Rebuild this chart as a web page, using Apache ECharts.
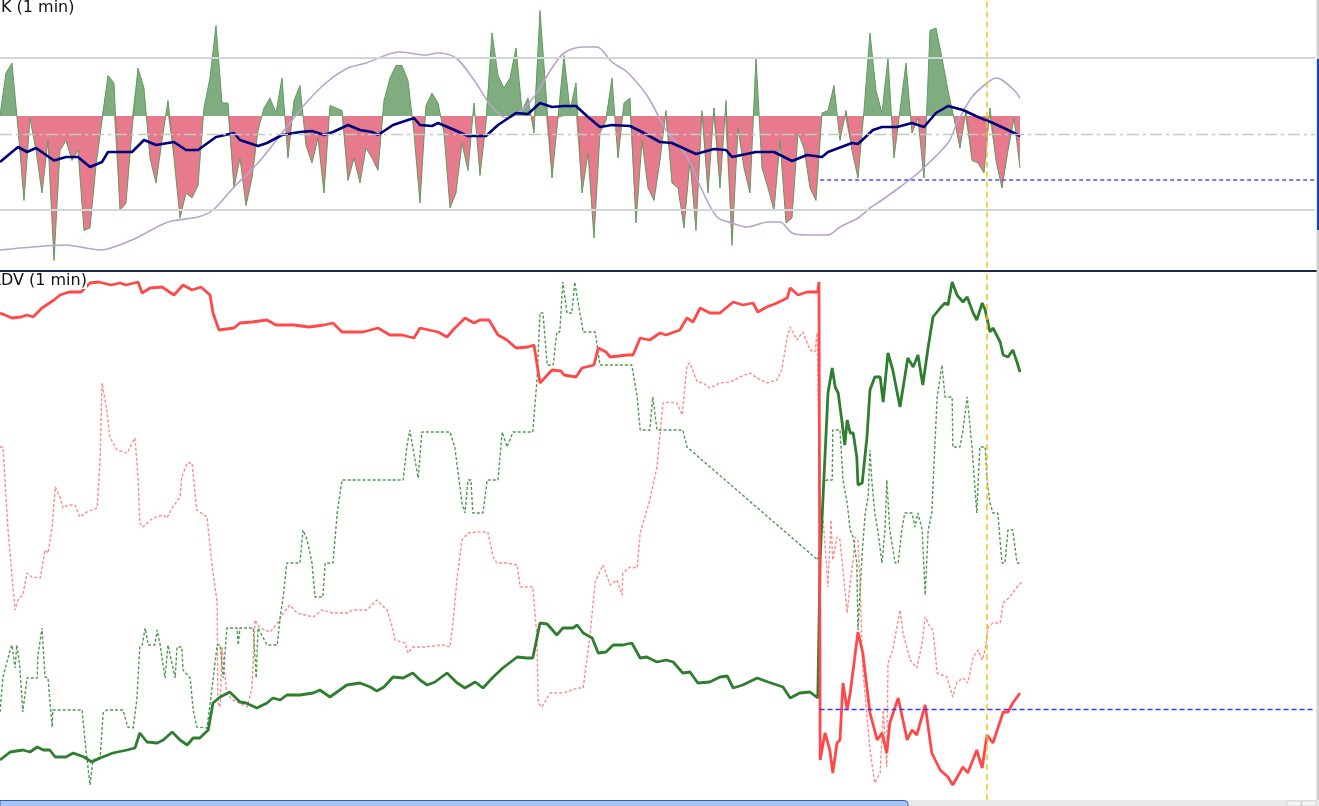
<!DOCTYPE html>
<html><head><meta charset="utf-8">
<script src="https://cdn.jsdelivr.net/npm/echarts@6/dist/echarts.min.js"></script>
<style>html,body{margin:0;padding:0;background:#fff;overflow:hidden}#c{width:1319px;height:806px}</style>
</head><body><div id="c"></div>
<script>
// ---------- DATA ----------
// x unit: minute index (1 minute per step)
const oscK = [57,74,78,52,23,56,43,26,47,-1,43,47,39,43,11,12,37,55,73,70,19,22,51,76,68,40,30,47,63,40,
16,26,24,29,60,72,93,62,62,28,40,21,32,51,60,64,58,72,40,63,69,45,38,48,26,61,60,59,31,40,
30,44,40,35,63,72,77,77,71,50,22,61,66,62,50,20,26,46,35,62,33,54,90,73,68,72,84,59,64,50,
99,66,32,56,81,59,70,26,42,8,50,55,72,40,62,64,14,47,28,23,39,59,30,28,12,39,11,59,26,60,
28,63,5,52,36,26,80,36,28,19,47,14,16,50,44,28,23,58,59,69,47,59,43,32,59,90,67,58,80,40,
59,78,50,56,32,91,92,80,67,56,44,59,39,38,34,60,39,28,43,56,36];
const kBaseline = 56.8;
const kUpper = 80, kLower = 19.2, kMid = 49.6, kRef = 31.2;

const navyLine = [[0,38.4],[3,44.4],[4.5,42.4],[6,44],[9,39],[11,40.4],[13,40.4],[15,36.4],[17,38.4],[18,42.4],[20,42.4],[22,42.4],[24,47.2],[26,45.2],[29,46.4],[31,43.2],[33,43.2],[36,48.4],[39,50],[40,47.2],[43,44.8],[44.5,46],[47,49.2],[50,50.4],[52,50.8],[54,49.2],[55.5,50.4],[58,53.2],[60,51.2],[62,50.4],[63,49.2],[65.5,53.2],[69,56],[70,53.2],[72,52.8],[73,54],[75,52],[78,48.8],[81,48.8],[83,53.2],[86,58],[88,57.6],[90,62],[92,60.4],[94,60.8],[96,60.8],[98,56.4],[100,52.4],[102,53.2],[105,52.8],[107,50.4],[110,46.4],[112,46],[116,41.6],[119,43.6],[121,43.2],[122,40.4],[126,42.4],[129,42.4],[132,38.8],[134.5,41.2],[137,40.4],[138,42.4],[142,46],[143,45.6],[145.5,51.2],[147,52.4],[149.5,52.4],[152,54],[154,52.4],[156,58],[158,60.8],[160.5,59.2],[163,56.4],[165.5,54],[168,51.2],[170,48.8]];

const lavenderLine = [[0,3.2],[5.5,4.4],[11,5.2],[16.7,3.2],[22,7.2],[28,14.4],[33,16.4],[35.5,19.2],[39,28.4],[43,38],[47,50],[51,62],[54.5,70.4],[58,76],[61,78],[66.5,82.4],[71,81.2],[73,82],[76,80],[79,71.2],[82,60.4],[84.5,56],[87,59.2],[89,64.4],[92,76],[94,82],[97,84.4],[99.5,84.4],[102,78.4],[104.5,74.4],[108,64.4],[111,51.2],[114.5,40.4],[117,27.2],[119.5,16.4],[122,14],[124.5,12.4],[128,14.4],[130,14.4],[132,10],[134.5,9.2],[138,9.2],[140,12.4],[143,16],[145,20],[147,23.2],[150,28.4],[153,34],[158,46],[159.5,54],[162,64.4],[164.5,70],[166,72],[167,71.2],[169,67.2],[170,64]];

const advRed = [[0,97.4],[2,96.4],[3.5,96.6],[4.5,97],[5.5,96.6],[7,98.4],[9,100],[10,101],[11.5,101.6],[13.5,101.6],[15,103.4],[16.5,103.6],[18.5,103],[20,103.4],[21,103],[23,103.6],[23.7,101.4],[25,102.4],[27,102.6],[29,101],[30.5,103],[32,102],[33.5,102.6],[35,101],[35.5,97.4],[36.5,94],[39,94.4],[40,95.4],[42,95.6],[44.5,96],[46,95],[49,95],[51.5,94.6],[54,95],[55.5,95.4],[57,93.6],[60.5,93.6],[63,94.4],[65,93],[67,93],[69,92.4],[70,94.4],[73,93.6],[74.5,92.6],[75.5,94],[77.5,96.4],[79,95.4],[80,96],[81.5,96],[83,93],[84.5,92],[86,90.4],[88,90.6],[89,91],[90,83.4],[92,86],[93.5,85.8],[94,85],[96,84.6],[97,86.4],[99,87],[99.7,90.4],[101,89.6],[101.7,88.6],[104.5,89],[105.5,89],[106.7,92.4],[108.3,92],[110,93.4],[111,93],[113.3,94],[114.5,96.4],[115.5,95.6],[116.7,98.4],[118.3,97.4],[120,97.4],[122.2,99.6],[123.8,99],[125.5,99.4],[126.3,97.6],[127.8,98.6],[129.5,99.4],[131.2,100.4],[131.7,102.4],[133,101],[134.5,101.6],[136.3,101.6],[136.5,103.6],[136.7,8],[137.5,13.4],[138.3,10],[138.8,5.4],[139.5,11.4],[140,12],[140.5,23.4],[141.2,18],[141.7,21.4],[143,33.6],[143.8,29.4],[145,17.4],[146.2,12],[147,13.4],[147.8,9.4],[148.3,15.4],[149.7,20.4],[151.2,12],[152,14],[152.8,13],[154.2,19],[155.3,9.4],[156.7,6],[158,4.6],[158.8,3],[160.5,6.6],[161.3,5.4],[162.8,10],[163.7,6.4],[164.5,13],[165.5,11.4],[167.2,17.6],[168,17.6],[168.8,19.4],[170,21.4]];

const advGreen = [[0,8],[1.7,9.6],[3.8,10],[5,9.6],[6.2,10.6],[7.2,10],[8.3,10],[9.2,8.6],[11,8.6],[12.2,9.4],[14,8.6],[15.3,7.6],[16.7,8.4],[18.8,9.4],[21.2,10],[22.5,10.4],[23.3,13.4],[24.5,11.6],[26.2,11.4],[27.2,12],[28.7,13.6],[30,12],[31.2,11],[32.2,12.4],[33.3,12.4],[34.7,14],[35.5,19.4],[36.7,20.6],[38.3,21.6],[40,19.6],[41,19.4],[42.8,18.4],[44.5,19.4],[45.5,20.4],[46.7,20],[47.8,21],[50,21],[52.2,21.4],[53.3,22],[55,20.6],[57.8,23],[60,23.4],[61.7,22.6],[62.8,21.8],[64,22.6],[65.5,24.6],[67.2,24.4],[68.8,25.4],[70,24],[71.2,23],[72.5,23.6],[74.5,25.4],[76.2,23.4],[77.5,22.4],[79.2,23.6],[80.5,22.4],[82.2,24.6],[83.8,26.4],[86.2,28.6],[87.8,28.4],[88.8,28.4],[90,35.4],[91.2,35.2],[92.8,33],[93.8,34.4],[95.5,34.4],[96.2,35],[97.2,33.4],[98.7,32.4],[99.7,29.4],[101,29.6],[102.2,31],[103.8,31],[105.3,31.4],[106.7,28.4],[107.8,28.6],[109.5,27.6],[111,28],[112.2,27.6],[113.8,25.4],[115,25.6],[116.3,23.4],[118.3,23.6],[120,24.6],[121.2,24.8],[122.2,22.4],[123.8,23],[126.2,24.4],[128,23.6],[129.5,23],[130.5,22.6],[131.7,20.4],[133.3,21.4],[135,21.6],[136.3,20.4],[136.7,48.6],[138,81.4],[138.7,86.4],[139.2,82.6],[139.7,81.4],[140.3,76],[140.8,71],[141.2,76],[141.7,73.4],[142.2,73.4],[142.8,68.6],[143,63],[143.7,63.4],[144.5,72.6],[145,82],[145.8,84.6],[146.7,84.6],[147.2,79.6],[147.5,79.6],[148,89.4],[148.8,86],[150,78.6],[150.8,84.6],[151.3,88.4],[152.2,86.6],[153,89],[153.8,83],[154.7,90.6],[155.5,96.6],[156.7,98.4],[157.5,99.4],[158,99],[158.7,103.6],[159.5,101],[160.5,99.6],[161.2,100.6],[162.2,97.4],[162.8,96],[163.7,99.4],[164.2,98],[165,93.6],[165.5,94.4],[166.7,91.6],[167.2,89],[168,88.6],[168.8,90],[169.5,87.6],[170,85.6]];

const advRedDot = [[0,70.6],[0.5,70.6],[1.3,54.6],[2.2,42],[2.5,38],[3,40],[3.8,41],[4.5,45.4],[5.3,44.6],[6.7,44.4],[7.5,50],[8,49.4],[8.7,54.6],[9.2,62.6],[10,60.6],[10.5,58.4],[11.3,59],[12.5,59],[13.3,56.6],[14.5,57.6],[16.2,58.4],[16.7,68.6],[17,83.4],[17.8,78],[18.3,72.6],[19.5,70],[21.2,69.4],[22,71.4],[22.5,72.4],[23,64.6],[23.3,55.4],[23.8,54.6],[25.5,56.4],[27.2,57],[27.8,56.4],[28.8,58.6],[30,60.6],[30.3,64.6],[31.2,67.4],[32,67.4],[32.8,58],[34.5,56.6],[35.3,47.4],[36.2,39.4],[36.3,19.4],[36.7,18.6],[37,30.6],[37.8,21.4],[38.8,20],[41.2,18.6],[42,22.6],[42.5,36],[43.3,34.4],[45,33.6],[46.3,35.4],[47,37],[48.3,39],[49.5,37.4],[52.2,36.6],[53.7,38],[55.5,37.4],[57.8,37.4],[58.8,38],[61.2,38],[62.8,40],[64.5,38],[65.5,34],[65.8,32],[67.5,31.4],[68,29.4],[68.8,30.6],[70.5,30.6],[73.8,31],[75,30.6],[75.5,35.4],[76.2,44.6],[77,52],[78,53.4],[79.5,53.6],[81.3,53.6],[82.2,48.6],[82.8,47.4],[84.5,47.4],[86.2,47],[86.7,42.6],[88.8,42.6],[89.5,32.6],[89.7,19.4],[90.3,18.6],[91.7,21.4],[93.3,21.4],[94.5,21.6],[96.2,22.4],[97.2,22.4],[98.3,32.6],[99.2,43.6],[100.5,47],[101.7,43],[102.8,44],[103.7,41],[103.8,45.4],[105,46.6],[106.2,46.4],[106.7,53.4],[108.3,60],[109.5,66.6],[110.5,79.4],[111.7,79.6],[112.8,79.4],[113.7,77],[114.5,87],[115,87.4],[116.2,83.6],[117.2,83.4],[118.3,82.4],[120,83.4],[121.7,83.6],[123.3,84.6],[125,85.4],[126.2,84.4],[127.8,83.4],[129.5,84],[130.3,86],[131.2,92.6],[131.7,94.6],[132.8,92],[133.8,93.6],[135,90],[135.8,89.6],[136.2,93.4],[136.7,56],[137.2,56],[138,42.6],[138.5,56],[138.8,48],[139.5,52.6],[140,52],[140.5,46],[141.2,37.4],[141.7,43.4],[142.2,48],[142.5,52.6],[143,52],[143.3,44.6],[143.8,26],[145,10],[145.8,3.4],[146.7,5.4],[147.2,18],[147.8,6.6],[148,27.4],[148.8,30],[150,38],[150.5,33.4],[151.7,28],[152.8,26.4],[153.7,31.4],[154.2,36.6],[155,34.6],[155.5,34],[156.2,25.4],[157.8,24.6],[158.8,20.6],[159.5,23.6],[160.5,24.4],[161.3,23.4],[162.2,28.6],[163,30],[163.7,28],[164.2,30],[164.7,34.6],[165.5,35.4],[166.7,35.4],[167.2,39.4],[168.3,40.6],[169.5,42.6],[170.3,43.6]];

const advGreenDot = [[0,17.6],[0.5,24.6],[1.7,30],[2,31],[2.5,26.4],[2.8,31],[3.3,26.6],[3.8,17.6],[4.5,24.4],[6.2,24.4],[6.3,28.6],[7,34.4],[7.5,24.6],[8,24.4],[8.7,14.6],[8.8,18],[13.7,18],[14.2,11.4],[15,3],[15.5,8],[16.7,8.6],[17.2,17.4],[17.8,18],[20.5,18],[21.3,14.6],[22.2,14.4],[22.8,20],[23.3,30.6],[23.7,31],[24.2,34.4],[24.7,31],[25.8,31],[26.2,34],[26.7,31],[27.5,24.4],[28,31],[29.2,24.4],[29.5,30.6],[30.3,30.6],[30.5,26],[31.7,24.4],[32.2,18],[32.8,14.6],[34.5,14.4],[35.3,22],[36.2,31],[36.7,31],[37.2,24.4],[37.8,34.4],[39.5,34.4],[39.7,31],[40,34.4],[42.2,34.4],[42.7,24.4],[43,34.4],[44.5,31],[46.2,31],[46.7,36.6],[47.2,40.6],[47.8,47.4],[50,47.4],[50.5,54],[51.2,52],[52,47.4],[52.5,40.6],[53.8,40.6],[54.2,47.4],[55.5,47.4],[56.2,57.4],[57,64],[67.2,64],[67.8,70.6],[68.3,74],[68.8,70.6],[69.7,64.4],[70.3,73.6],[75,73.6],[75.8,70.6],[77,59.4],[77.5,57.4],[78,64],[78.5,64],[78.8,57.4],[80.5,57.4],[81.2,64],[83,64],[83.7,73.6],[84.5,70.6],[85.5,73.6],[88.8,73.6],[89.5,84],[90,97.4],[90.5,97.4],[91.2,87],[92.2,87],[92.8,93.6],[93.3,93.6],[93.8,103.6],[94.5,97.4],[95.3,97.4],[95.8,103.6],[96.2,100.6],[97.2,93.6],[99.2,93.6],[100,87],[105.3,87],[106.2,80.6],[106.7,74],[108.3,74],[108.8,80.6],[109.5,74],[113.8,74],[114.5,70.6],[136.3,48],[137,54],[137.2,63.4],[137.8,64],[138.7,64],[138.8,74],[140,74],[140.5,64],[141.2,59.4],[141.7,54],[142.2,52.6],[142.8,47.4],[143,34],[143.7,49.4],[144.2,57.4],[144.7,60.6],[145,70],[145.3,64],[145.8,57.4],[146.3,54],[147,47.4],[147.5,54],[147.8,64],[148.3,54],[149.2,47.4],[149.7,47.4],[150.3,54],[150.8,57.4],[152,57.4],[152.5,54.6],[153,57.4],[153.7,54],[154.2,41],[154.7,54],[155.3,57.4],[155.8,70.6],[156.2,80.6],[157,87],[157.5,80.6],[158.7,80.6],[158.8,70.6],[160,70.6],[160.5,74],[161.2,80.6],[161.3,80.6],[162,70.6],[162.8,57.4],[163.3,70.6],[164.2,70.6],[164.5,64],[165,59.4],[165.5,57.4],[166.3,57.4],[167,47.4],[167.5,47.4],[168,54],[168.8,54],[169.5,47.4],[170.3,47.4]];
const advRef = 18.2;
const refStart = 136.6;
const cursorMinute = 164.5;
const axisEnd = 219.17;

// ---------- split oscillator at its baseline (adds crossing points) ----------
function splitAt(vals, base){
  const up = [], dn = [];
  for (let i = 0; i < vals.length; i++){
    const v = vals[i];
    if (i > 0){
      const p = vals[i-1];
      if ((p - base) * (v - base) < 0){
        const t = (base - p) / (v - p);
        up.push([i-1+t, base]); dn.push([i-1+t, base]);
      }
    }
    up.push([i, Math.max(v, base)]);
    dn.push([i, Math.min(v, base)]);
  }
  return {up, dn};
}
const oscSplit = splitAt(oscK, kBaseline);
const oscPairs = oscK.map((v,i)=>[i,v]);

// ---------- CHART ----------
const chart = echarts.init(document.getElementById('c'), null, {renderer:'canvas'});
const noLbl = {show:false};
const xa = (g)=>({type:'value', gridIndex:g, min:0, max:axisEnd, show:false});
const lineOpt = (xi, data, ls, z, extra) => Object.assign({type:'line', xAxisIndex:xi, yAxisIndex:xi, data, symbol:'none', showSymbol:false, lineStyle:ls, z, silent:true}, extra||{});
chart.setOption({
  animation:false,
  backgroundColor:'#ffffff',
  grid:[
    {left:0, top:0, width:1315, height:267.5},
    {left:0, top:272, width:1315, height:528}
  ],
  xAxis:[xa(0), xa(1)],
  yAxis:[
    {type:'value', gridIndex:0, min:-3.8, max:103.2, show:false},
    {type:'value', gridIndex:1, min:0, max:105.6, show:false}
  ],
  series:[
    lineOpt(0, oscSplit.up, {width:0, opacity:0}, 1, {areaStyle:{origin:kBaseline, color:'#80ad80', opacity:1}}),
    lineOpt(0, oscSplit.dn, {width:0, opacity:0}, 1, {areaStyle:{origin:kBaseline, color:'#e87a8d', opacity:1}}),
    lineOpt(0, oscPairs, {color:'#5f9c5f', width:1}, 2),
    lineOpt(0, lavenderLine, {color:'#b9a2cb', width:1.6}, 3, {smooth:0.3,
      markLine:{silent:true, symbol:'none', label:noLbl,
        data:[
          {yAxis:kUpper, lineStyle:{color:'#d2d6d6', width:2, type:'solid'}},
          {yAxis:kLower, lineStyle:{color:'#d2d6d6', width:2, type:'solid'}},
          {yAxis:kMid, lineStyle:{color:'#c4c8c4', width:1.3, type:[12,4,3,4]}},
          {xAxis:cursorMinute, lineStyle:{color:'#f2c21a', width:1.5, type:[6,4]}}
        ]}}),
    lineOpt(0, navyLine, {color:'#00007e', width:2.6}, 4, {
      markLine:{silent:true, symbol:'none', label:noLbl,
        data:[[{coord:[refStart+0.1,kRef]},{coord:[axisEnd,kRef]}]],
        lineStyle:{color:'#5050f0', width:1.5, type:[4,3]}}}),
    lineOpt(1, advRedDot, {color:'#ff8a8a', width:1.4, type:[3,2]}, 2, {
      markLine:{silent:true, symbol:'none', label:noLbl,
        data:[{xAxis:cursorMinute}],
        lineStyle:{color:'#f2c21a', width:1.5, type:[6,4]}}}),
    lineOpt(1, advGreenDot, {color:'#4f9a4f', width:1.4, type:[3,2]}, 2, {
      markLine:{silent:true, symbol:'none', label:noLbl,
        data:[[{coord:[refStart,advRef]},{coord:[axisEnd,advRef]}]],
        lineStyle:{color:'#3a3af0', width:1.3, type:[5,3]}}}),
    lineOpt(1, advGreen, {color:'#2f7d2f', width:2.8}, 3),
    lineOpt(1, advRed, {color:'#ff4848', width:2.8}, 4)
  ],
  graphic:[
    {type:'rect', shape:{x:0,y:270,width:1317,height:2}, style:{fill:'#1e2a4c'}, z:100},
    {type:'rect', shape:{x:1316.5,y:0,width:2.5,height:800}, style:{fill:'#cfcfcf'}, z:100},
    {type:'rect', shape:{x:1317,y:59,width:2,height:171}, style:{fill:'#1744c4'}, z:101},
    {type:'text', x:1, y:0, style:{text:'K (1 min)', font:'16px "DejaVu Sans"', fill:'#111'}, z:100},
    {type:'text', x:-10, y:273, style:{text:'ADV (1 min)', font:'16px "DejaVu Sans"', fill:'#111', backgroundColor:'#fff'}, z:100},
    {type:'rect', shape:{x:0,y:800,width:1319,height:6}, style:{fill:'#e9e9e9'}, z:100},
    {type:'rect', shape:{x:0,y:800.5,width:908,height:6,r:[0,4,0,0]}, style:{fill:'#a8c5ee', stroke:'#2b5fc4', lineWidth:1}, z:101},
    {type:'rect', shape:{x:1287,y:801,width:14,height:5}, style:{fill:'#f4f4f4', stroke:'#bbb', lineWidth:0.5}, z:101},
    {type:'rect', shape:{x:1302,y:801,width:14,height:5}, style:{fill:'#f4f4f4', stroke:'#bbb', lineWidth:0.5}, z:101}
  ]
});
</script>
</body></html>
